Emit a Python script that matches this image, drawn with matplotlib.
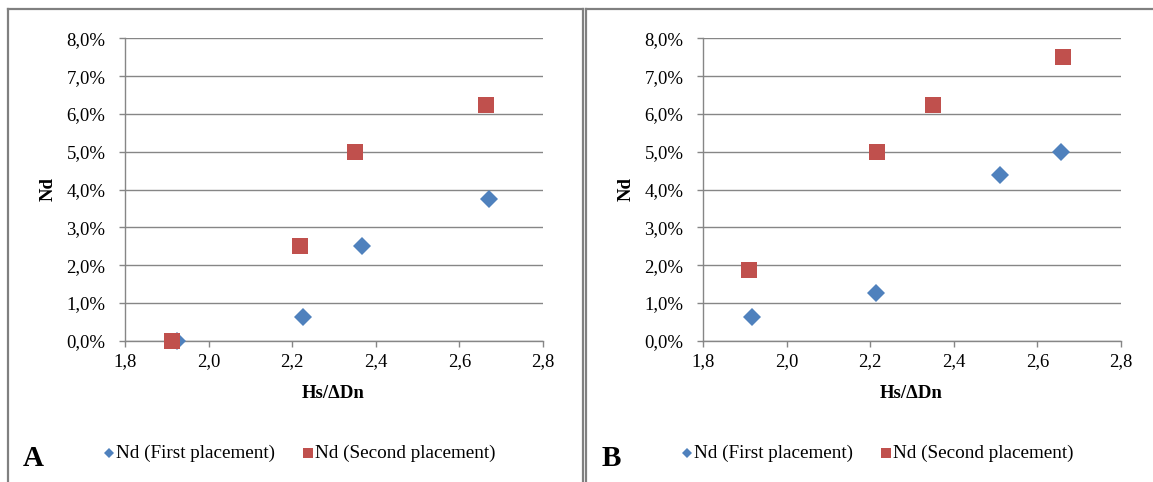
import matplotlib.pyplot as plt
from matplotlib.lines import Line2D

plt.rcParams['font.family'] = ['Liberation Serif', 'DejaVu Serif']

# panel A data (Hs/ΔDn, Nd in %)
a_first_x = [1.925, 2.225, 2.367, 2.670]
a_first_y = [0.0, 0.625, 2.5, 3.75]
a_second_x = [1.912, 2.219, 2.351, 2.664]
a_second_y = [0.0, 2.5, 5.0, 6.25]

# panel B data
b_first_x = [1.918, 2.213, 2.511, 2.656]
b_first_y = [0.625, 1.25, 4.375, 5.0]
b_second_x = [1.911, 2.217, 2.351, 2.661]
b_second_y = [1.875, 5.0, 6.25, 7.5]

x_ticks = [1.8, 2.0, 2.2, 2.4, 2.6, 2.8]
x_tick_labels = ['1,8', '2,0', '2,2', '2,4', '2,6', '2,8']
y_ticks = [0, 1, 2, 3, 4, 5, 6, 7, 8]
y_tick_labels = ['0,0%', '1,0%', '2,0%', '3,0%', '4,0%', '5,0%', '6,0%', '7,0%', '8,0%']

panel_letters = ['A', 'B']
series_names = ['Nd (First placement)', 'Nd (Second placement)']

BLUE = '#4F81BD'
RED = '#C0504D'
GRID = '#868686'
W, H = 1153, 482

fig = plt.figure(figsize=(W / 100, H / 100), dpi=100)


def px(x, y):
    return x / W, 1 - y / H


def draw_panel(off, fx, fy, sx, sy, letter):
    left, top = 125 + off, 38.5
    ax = fig.add_axes([left / W, 1 - 340.7 / H, 418 / W, (340.7 - top) / H])
    ax.set_xlim(1.8, 2.8)
    ax.set_ylim(0, 8)
    ax.set_xticks(x_ticks)
    ax.set_xticklabels(x_tick_labels)
    ax.set_yticks(y_ticks)
    ax.set_yticklabels(y_tick_labels)
    ax.tick_params(labelsize=13.5, length=4, width=1, color=GRID, pad=5)
    ax.tick_params(axis='y', pad=10)
    for s in ['top', 'right']:
        ax.spines[s].set_visible(False)
    for s in ['left', 'bottom']:
        ax.spines[s].set_color(GRID)
        ax.spines[s].set_linewidth(1)
    ax.yaxis.grid(True, color=GRID, linewidth=1)
    ax.set_axisbelow(True)
    ax.plot(fx, fy, 'D', color=BLUE, markersize=9, markeredgewidth=0,
            clip_on=False, zorder=3)
    ax.plot(sx, sy, 's', color=RED, markersize=11, markeredgewidth=0,
            clip_on=False, zorder=4)

    fig.text(*px(333 + off, 393), 'Hs/ΔDn', fontsize=13.5, fontweight='bold',
             ha='center', va='center')
    fig.text(*px(48 + off, 189), 'Nd', fontsize=13.5, fontweight='bold',
             rotation=90, ha='center', va='center')
    fig.text(*px(33 + off, 458), letter, fontsize=21, fontweight='bold',
             ha='center', va='center')

    # legend
    fig.add_artist(Line2D([(109 + off) / W], [1 - 453 / H], marker='D',
                          color=BLUE, markersize=5.5, markeredgewidth=0, linestyle=''))
    fig.text(*px(116 + off, 453), series_names[0], fontsize=13.8,
             ha='left', va='center')
    fig.add_artist(Line2D([(308 + off) / W], [1 - 453 / H], marker='s',
                          color=RED, markersize=7.5, markeredgewidth=0, linestyle=''))
    fig.text(*px(315 + off, 453), series_names[1], fontsize=13.8,
             ha='left', va='center')


draw_panel(0, a_first_x, a_first_y, a_second_x, a_second_y, panel_letters[0])
draw_panel(578, b_first_x, b_first_y, b_second_x, b_second_y, panel_letters[1])

# panel frames
BORDER = '#808080'
for xs, ys in [([8, 8], [9, H]), ([8, 583], [9, 9]), ([583, 583], [9, H]),
               ([586, 586], [9, H]), ([586, W], [9, 9])]:
    fig.add_artist(Line2D([x / W for x in xs], [1 - y / H for y in ys],
                          color=BORDER, linewidth=1.6))

fig.savefig('out.png', dpi=100)
